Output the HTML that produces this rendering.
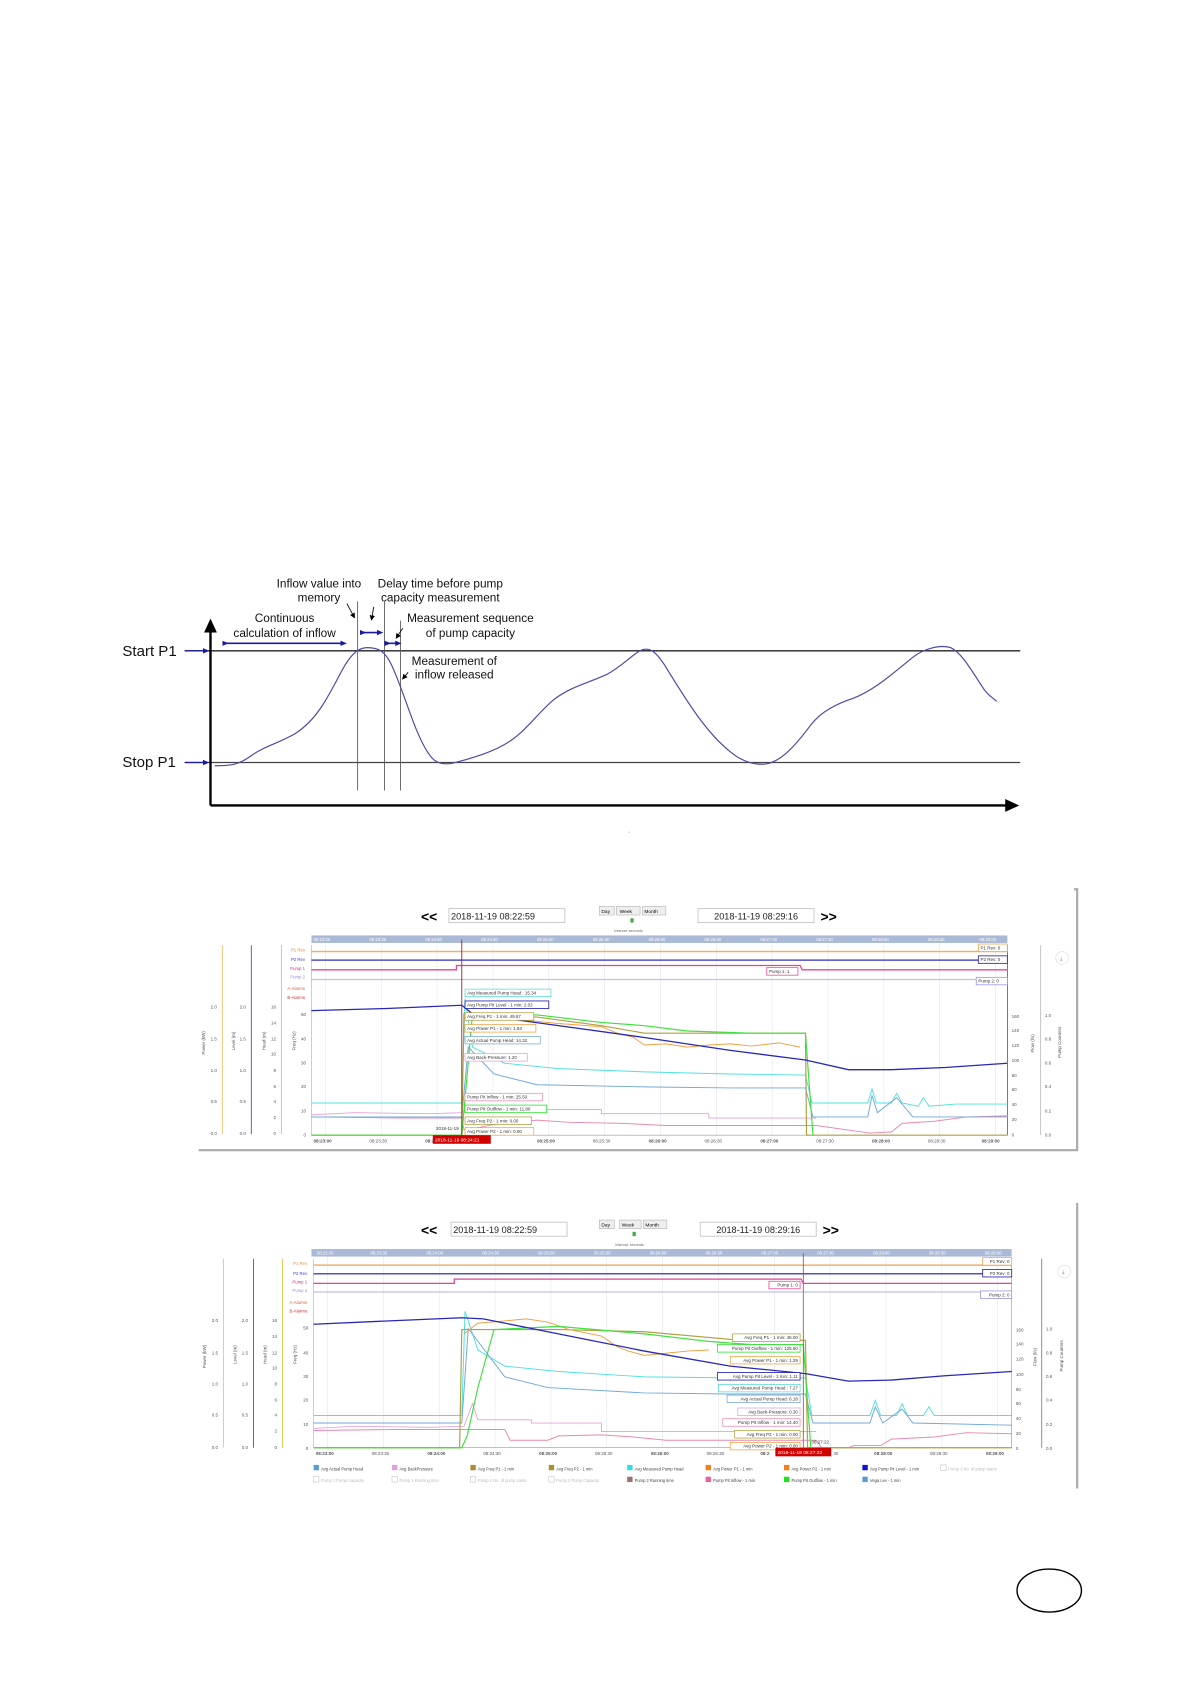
<!DOCTYPE html>
<html><head><meta charset="utf-8"><style>
html,body{margin:0;padding:0;background:#fff;}
svg{display:block;}
text{font-family:"Liberation Sans",sans-serif;}
.s{font-size:4.5px;fill:#555;}
.lb{font-size:4.2px;fill:#333;}
.ax{font-size:4.2px;fill:#555;}
</style></head><body>
<svg width="1191" height="1684" viewBox="0 0 1109 1568" preserveAspectRatio="none" xmlns="http://www.w3.org/2000/svg">
<defs>
<marker id="ah" markerWidth="6" markerHeight="6" refX="3" refY="3" orient="auto" markerUnits="userSpaceOnUse"><path d="M0,0.5 L6,3 L0,5.5 z" fill="#1a1aa0"/></marker>
<marker id="bk" markerWidth="14" markerHeight="14" refX="7" refY="7" orient="auto" markerUnits="userSpaceOnUse"><path d="M0,1 L13,7 L0,13 z" fill="#000"/></marker>
<marker id="sm" markerWidth="5" markerHeight="5" refX="4" refY="2.5" orient="auto" markerUnits="userSpaceOnUse"><path d="M0,0 L5,2.5 L0,5 z" fill="#000"/></marker>
</defs>

<!-- ===== Diagram ===== -->
<g font-size="11" fill="#111" text-anchor="middle">
<text x="297" y="547">Inflow value into</text><text x="297" y="560">memory</text>
<text x="410" y="547">Delay time before pump</text><text x="410" y="560">capacity measurement</text>
<text x="265" y="579">Continuous</text><text x="265" y="593">calculation of inflow</text>
<text x="438" y="579">Measurement sequence</text><text x="438" y="593">of pump capacity</text>
<text x="423" y="619">Measurement of</text><text x="423" y="632">inflow released</text>
</g>
<text x="114" y="611" font-size="14" fill="#111">Start P1</text>
<text x="114" y="714" font-size="14" fill="#111">Stop P1</text>
<line x1="172" y1="606" x2="950" y2="606" stroke="#222" stroke-width="1.2"/>
<line x1="172" y1="710" x2="950" y2="710" stroke="#444" stroke-width="1.2"/>
<path d="M172,606 L192,606" stroke="#1a1aa0" stroke-width="1.2" marker-end="url(#ah)"/>
<path d="M172,710 L192,710" stroke="#1a1aa0" stroke-width="1.2" marker-end="url(#ah)"/>
<line x1="196" y1="750" x2="196" y2="582" stroke="#000" stroke-width="2.2" marker-end="url(#bk)"/>
<line x1="196" y1="750" x2="943" y2="750" stroke="#000" stroke-width="2.2" marker-end="url(#bk)"/>
<g stroke="#555" stroke-width="0.8">
<line x1="333" y1="560" x2="333" y2="736"/><line x1="358" y1="560" x2="358" y2="736"/><line x1="373" y1="578" x2="373" y2="736"/>
</g>
<g stroke="#1a1aa0" stroke-width="1.5">
<path d="M210,599 L320,599" marker-end="url(#ah)" marker-start="url(#ah)"/>
<path d="M338,589 L354,589" marker-end="url(#ah)" marker-start="url(#ah)"/>
<path d="M361,599 L371,599" marker-end="url(#ah)" marker-start="url(#ah)"/>
</g>
<g stroke="#000" stroke-width="0.8">
<path d="M323,562 L330,575" marker-end="url(#sm)"/>
<path d="M348,565 L346,577" marker-end="url(#sm)"/>
<path d="M375,585 L369,594" marker-end="url(#sm)"/>
<path d="M380,626 L375,632" marker-end="url(#sm)"/>
</g>
<path d="M200,713 C215,713 222,712 232,705 C245,695 260,692 275,683 C295,670 305,650 318,625 C326,610 333,603 342,603 C352,603 358,606 364,618 C375,640 385,680 398,700 C404,710 410,712 420,711 C440,706 460,700 475,690 C490,680 500,665 515,652 C530,640 545,637 565,628 C580,620 590,608 598,605 C605,603 610,606 618,618 C635,645 655,680 680,700 C692,710 705,713 715,711 C728,708 740,695 755,675 C765,662 780,655 795,650 C815,642 830,628 850,612 C860,604 875,600 885,603 C895,607 905,625 915,640 C920,648 925,650 928,653" fill="none" stroke="#4a4aa8" stroke-width="1.1"/>
<text x="585" y="775" font-size="6" fill="#333">.</text>

<!-- ===== Chart 1 ===== -->
<g id="c1">
<path d="M1000,828 L1003,828 L1003,1071 L185,1071" fill="none" stroke="#aaa" stroke-width="2"/>
<text x="392" y="858" font-size="13" font-weight="bold">&lt;&lt;</text>
<rect x="418" y="846" width="108" height="13" fill="#fff" stroke="#bbb" stroke-width="0.7"/>
<text x="420" y="856" font-size="8.5" fill="#222">2018-11-19 08:22:59</text>
<rect x="558" y="844" width="14" height="8" fill="#eee" stroke="#aaa" stroke-width="0.5"/><text x="560" y="850" font-size="4.5">Day</text>
<rect x="574" y="844" width="22" height="8" fill="#eee" stroke="#aaa" stroke-width="0.5"/><text x="577" y="850" font-size="4.5">Week</text>
<rect x="598" y="844" width="22" height="8" fill="#eee" stroke="#aaa" stroke-width="0.5"/><text x="600" y="850" font-size="4.5">Month</text>
<rect x="587" y="855" width="3" height="4" fill="#4a4"/>
<text x="572" y="868" font-size="3.5" fill="#666">Interval: seconds</text>
<rect x="650" y="846" width="108" height="13" fill="#fff" stroke="#bbb" stroke-width="0.7"/>
<text x="665" y="856" font-size="8.5" fill="#222">2018-11-19 08:29:16</text>
<text x="764" y="858" font-size="13" font-weight="bold">&gt;&gt;</text>
<rect x="290" y="871" width="648" height="7" fill="#a9b9d6"/>
<g font-size="4"><text x="292" y="876" fill="#fff">08:23:00</text><text x="344" y="876" fill="#fff">08:23:30</text><text x="396" y="876" fill="#fff">08:24:00</text><text x="448" y="876" fill="#fff">08:24:30</text><text x="500" y="876" fill="#fff">08:25:00</text><text x="552" y="876" fill="#fff">08:25:30</text><text x="604" y="876" fill="#fff">08:26:00</text><text x="656" y="876" fill="#fff">08:26:30</text><text x="708" y="876" fill="#fff">08:27:00</text><text x="760" y="876" fill="#fff">08:27:30</text><text x="812" y="876" fill="#fff">08:28:00</text><text x="864" y="876" fill="#fff">08:28:30</text><text x="912" y="876" fill="#fff">08:29:00</text></g>
<g stroke="#e4e8f0" stroke-width="0.6"><line x1="303" y1="878" x2="303" y2="1057"/><line x1="355" y1="878" x2="355" y2="1057"/><line x1="407" y1="878" x2="407" y2="1057"/><line x1="459" y1="878" x2="459" y2="1057"/><line x1="511" y1="878" x2="511" y2="1057"/><line x1="563" y1="878" x2="563" y2="1057"/><line x1="615" y1="878" x2="615" y2="1057"/><line x1="667" y1="878" x2="667" y2="1057"/><line x1="719" y1="878" x2="719" y2="1057"/><line x1="771" y1="878" x2="771" y2="1057"/><line x1="823" y1="878" x2="823" y2="1057"/><line x1="875" y1="878" x2="875" y2="1057"/><line x1="927" y1="878" x2="927" y2="1057"/></g>
<line x1="290" y1="880" x2="290" y2="1057" stroke="#b8c8e0" stroke-width="0.8"/>
<line x1="290" y1="1057" x2="938" y2="1057" stroke="#999" stroke-width="0.6"/>
<line x1="938" y1="880" x2="938" y2="1057" stroke="#333" stroke-width="0.6"/>
<line x1="207" y1="880" x2="207" y2="1056" stroke="#f0c060" stroke-width="0.8"/>
<line x1="234" y1="880" x2="234" y2="1056" stroke="#4040ff" stroke-width="0.8"/>
<line x1="262" y1="880" x2="262" y2="1056" stroke="#e0c040" stroke-width="0.8"/>
<g class="ax" text-anchor="end">
<text x="202" y="939">2.0</text><text x="202" y="969">1.5</text><text x="202" y="998">1.0</text><text x="202" y="1027">0.5</text><text x="202" y="1057">0.0</text>
<text x="229" y="939">2.0</text><text x="229" y="969">1.5</text><text x="229" y="998">1.0</text><text x="229" y="1027">0.5</text><text x="229" y="1057">0.0</text>
<text x="257" y="939">16</text><text x="257" y="954">14</text><text x="257" y="969">12</text><text x="257" y="983">10</text><text x="257" y="998">8</text><text x="257" y="1013">6</text><text x="257" y="1027">4</text><text x="257" y="1042">2</text><text x="257" y="1057">0</text>
<text x="285" y="946">50</text><text x="285" y="969">40</text><text x="285" y="991">30</text><text x="285" y="1013">20</text><text x="285" y="1036">10</text><text x="285" y="1058">0</text>
</g>
<g class="ax"><text transform="translate(191,982) rotate(-90)">Power (kW)</text><text transform="translate(219,978) rotate(-90)">Level (m)</text><text transform="translate(247,978) rotate(-90)">Head (m)</text><text transform="translate(275,978) rotate(-90)">Freq (Hz)</text></g>
<g font-size="4" text-anchor="end"><text x="284" y="886" fill="#e09040">P1 Rev</text><text x="284" y="895" fill="#4040d0">P2 Rev</text><text x="284" y="903" fill="#e02090">Pump 1</text><text x="284" y="911" fill="#9090e0">Pump 2</text><text x="284" y="922" fill="#e06040">A-Alarms</text><text x="284" y="930" fill="#d03030">B-Alarms</text></g>
<line x1="969" y1="880" x2="969" y2="1057" stroke="#bbb" stroke-width="0.8"/>
<g class="ax"><text x="942" y="948">160</text><text x="942" y="961">140</text><text x="942" y="975">120</text><text x="942" y="989">100</text><text x="942" y="1003">80</text><text x="942" y="1016">60</text><text x="942" y="1030">40</text><text x="942" y="1044">20</text><text x="942" y="1058">0</text>
<text x="973" y="947">1.0</text><text x="973" y="969">0.8</text><text x="973" y="991">0.6</text><text x="973" y="1013">0.4</text><text x="973" y="1036">0.2</text><text x="973" y="1058">0.0</text>
<text transform="translate(963,980) rotate(-90)">Flow (l/s)</text><text transform="translate(988,985) rotate(-90)">Pump Counters</text></g>
<circle cx="989" cy="892" r="6" fill="#fff" stroke="#ddd" stroke-width="0.6"/><text x="987" y="894" font-size="5" fill="#888">⤓</text>
<line x1="290" y1="886" x2="938" y2="886" stroke="#f0b070" stroke-width="1.4"/>
<line x1="290" y1="894" x2="938" y2="894" stroke="#5050c8" stroke-width="1.4"/>
<path d="M290,903 L425,903 L425,899 L745,899 L747,903 L938,903" fill="none" stroke="#e8409a" stroke-width="1.2"/>
<line x1="290" y1="912" x2="938" y2="912" stroke="#c0c0ea" stroke-width="1.2"/>
<path d="M290,1038 L330,1036 L400,1037 L430,1036 L440,1030 L495,1030 L495,1033 L560,1033 L560,1037 L660,1037 L660,1041 L760,1041" fill="none" stroke="#e2a0d8" stroke-width="0.8"/>
<path d="M290,1040 L370,1041 L430,1041 L432,1052 L445,1050 L460,1047 L500,1043 L530,1045 L580,1046 L620,1048 L680,1048 L760,1048 L810,1055 L830,1054 L840,1046 L870,1044 L900,1040 L938,1039" fill="none" stroke="#ea88b0" stroke-width="0.9"/>
<path d="M290,1027 L430,1027 L433,930 L440,975 L470,990 L520,995 L600,998 L680,1000 L750,1001 L756,1027 L808,1027 L812,1014 L816,1027 L830,1027 L835,1018 L840,1027 L855,1030 L860,1022 L865,1030 L890,1028 L938,1028" fill="none" stroke="#50e0e0" stroke-width="0.9"/>
<path d="M290,1040 L430,1040 L436,975 L460,1000 L500,1010 L600,1012 L680,1013 L750,1013 L757,1040 L808,1040 L812,1020 L817,1036 L835,1022 L850,1040 L938,1040" fill="none" stroke="#70a8d8" stroke-width="0.9"/>
<path d="M290,1057 L430,1057 L432,944 L500,947 L560,955 L600,962 L750,962 L751,1057 L938,1057" fill="none" stroke="#b0a040" stroke-width="1.1"/>
<path d="M432,946 L470,948 L520,953 L560,956 L575,962 L590,966 L600,973 L620,972 L640,975 L660,973 L680,972 L700,974 L725,971 L745,975" fill="none" stroke="#f0a040" stroke-width="0.9"/>
<path d="M290,1057 L430,1057 L440,944 L500,945 L560,952 L600,955 L640,960 L700,962 L750,962 L757,1057" fill="none" stroke="#40e040" stroke-width="1.1"/>
<path d="M290,941 L360,939 L430,936 L440,944 L520,955 L600,966 L680,978 L750,987 L790,996 L830,996 L880,994 L938,990" fill="none" stroke="#2828b8" stroke-width="1.2"/>
<line x1="430" y1="875" x2="430" y2="1057" stroke="#902020" stroke-width="0.8"/>
<g class="lb">
<rect x="433" y="921" width="80" height="7" fill="#fff" stroke="#50d8d8" stroke-width="0.7"/><text x="435" y="926">Avg Measured Pump Head : 15.34</text>
<rect x="433" y="932" width="78" height="7" fill="#fff" stroke="#2828b8" stroke-width="0.8"/><text x="435" y="937">Avg Pump Pit Level - 1 min: 2.02</text>
<rect x="433" y="943" width="64" height="7" fill="#fff" stroke="#b0a040" stroke-width="0.7"/><text x="435" y="948">Avg Freq P1 - 1 min: 49.67</text>
<rect x="433" y="954" width="66" height="7" fill="#fff" stroke="#f0a040" stroke-width="0.7"/><text x="435" y="959">Avg Power P1 - 1 min: 1.83</text>
<rect x="433" y="965" width="70" height="7" fill="#fff" stroke="#70a8d8" stroke-width="0.7"/><text x="435" y="970">Avg Actual Pump Head: 14.32</text>
<rect x="433" y="981" width="58" height="7" fill="#fff" stroke="#e2a0d8" stroke-width="0.7"/><text x="435" y="986">Avg Back-Pressure: 1.20</text>
<rect x="433" y="1018" width="72" height="7" fill="#fff" stroke="#ea88b0" stroke-width="0.7"/><text x="435" y="1023">Pump Pit Inflow - 1 min: 25.50</text>
<rect x="433" y="1029" width="76" height="7" fill="#fff" stroke="#40e040" stroke-width="0.8"/><text x="435" y="1034">Pump Pit Outflow - 1 min: 11.80</text>
<rect x="433" y="1040" width="62" height="7" fill="#fff" stroke="#b0a040" stroke-width="0.7"/><text x="435" y="1045">Avg Freq P2 - 1 min: 0.00</text>
<rect x="433" y="1050" width="64" height="7" fill="#fff" stroke="#f0a040" stroke-width="0.7"/><text x="435" y="1055">Avg Power P2 - 1 min: 0.00</text>
<rect x="911" y="879" width="27" height="7" fill="#fff" stroke="#f0a040" stroke-width="0.7"/><text x="913" y="884">P1 Rev: 0</text>
<rect x="911" y="890" width="27" height="7" fill="#fff" stroke="#2828b8" stroke-width="0.8"/><text x="913" y="895">P2 Rev: 0</text>
<rect x="714" y="901" width="29" height="7" fill="#fff" stroke="#e8409a" stroke-width="0.7"/><text x="716" y="906">Pump 1: 1</text>
<rect x="909" y="910" width="29" height="7" fill="#fff" stroke="#9090e0" stroke-width="0.7"/><text x="911" y="915">Pump 2: 0</text>
<text x="406" y="1052" fill="#333">2018-11-19</text>
</g>
<rect x="403" y="1057" width="54" height="8" fill="#d00000"/><text x="405" y="1063" font-size="4.5" fill="#fff">2018-11-19 08:24:21</text>
<g class="ax" font-weight="bold"><text x="292" y="1064">08:23:00</text><text x="344" y="1064" font-weight="normal">08:23:30</text><text x="396" y="1064">08:2</text><text x="500" y="1064">08:25:00</text><text x="552" y="1064" font-weight="normal">08:25:30</text><text x="604" y="1064">08:26:00</text><text x="656" y="1064" font-weight="normal">08:26:30</text><text x="708" y="1064">08:27:00</text><text x="760" y="1064" font-weight="normal">08:27:30</text><text x="812" y="1064">08:28:00</text><text x="864" y="1064" font-weight="normal">08:28:30</text><text x="914" y="1064">08:29:00</text></g>
</g>

<!-- ===== Chart 2 ===== -->
<g transform="translate(0,292)">
<line x1="1003" y1="828" x2="1003" y2="1094" stroke="#aaa" stroke-width="2"/>
<text x="392" y="858" font-size="13" font-weight="bold">&lt;&lt;</text>
<rect x="420" y="846" width="108" height="13" fill="#fff" stroke="#bbb" stroke-width="0.7"/>
<text x="422" y="856" font-size="8.5" fill="#222">2018-11-19 08:22:59</text>
<rect x="558" y="844" width="14" height="8" fill="#eee" stroke="#aaa" stroke-width="0.5"/><text x="560" y="850" font-size="4.5">Day</text>
<rect x="577" y="844" width="20" height="8" fill="#eee" stroke="#aaa" stroke-width="0.5"/><text x="579" y="850" font-size="4.5">Week</text>
<rect x="599" y="844" width="22" height="8" fill="#eee" stroke="#aaa" stroke-width="0.5"/><text x="601" y="850" font-size="4.5">Month</text>
<rect x="589" y="855" width="3" height="4" fill="#4a4"/>
<text x="573" y="868" font-size="3.5" fill="#666">Interval: seconds</text>
<rect x="652" y="846" width="108" height="13" fill="#fff" stroke="#bbb" stroke-width="0.7"/>
<text x="667" y="856" font-size="8.5" fill="#222">2018-11-19 08:29:16</text>
<text x="766" y="858" font-size="13" font-weight="bold">&gt;&gt;</text>
<rect x="290" y="871" width="652" height="7" fill="#a9b9d6"/>
<g font-size="4"><text x="295" y="876" fill="#fff">08:23:00</text><text x="345" y="876" fill="#fff">08:23:30</text><text x="397" y="876" fill="#fff">08:24:00</text><text x="449" y="876" fill="#fff">08:24:30</text><text x="501" y="876" fill="#fff">08:25:00</text><text x="553" y="876" fill="#fff">08:25:30</text><text x="605" y="876" fill="#fff">08:26:00</text><text x="657" y="876" fill="#fff">08:26:30</text><text x="709" y="876" fill="#fff">08:27:00</text><text x="761" y="876" fill="#fff">08:27:30</text><text x="813" y="876" fill="#fff">08:28:00</text><text x="865" y="876" fill="#fff">08:28:30</text><text x="917" y="876" fill="#fff">08:29:00</text></g>
<g stroke="#e4e8f0" stroke-width="0.6"><line x1="305" y1="878" x2="305" y2="1056"/><line x1="357" y1="878" x2="357" y2="1056"/><line x1="409" y1="878" x2="409" y2="1056"/><line x1="461" y1="878" x2="461" y2="1056"/><line x1="513" y1="878" x2="513" y2="1056"/><line x1="565" y1="878" x2="565" y2="1056"/><line x1="617" y1="878" x2="617" y2="1056"/><line x1="669" y1="878" x2="669" y2="1056"/><line x1="721" y1="878" x2="721" y2="1056"/><line x1="773" y1="878" x2="773" y2="1056"/><line x1="825" y1="878" x2="825" y2="1056"/><line x1="877" y1="878" x2="877" y2="1056"/><line x1="929" y1="878" x2="929" y2="1056"/></g>
<line x1="292" y1="880" x2="292" y2="1056" stroke="#b8c8e0" stroke-width="0.8"/>
<line x1="292" y1="1056" x2="942" y2="1056" stroke="#999" stroke-width="0.6"/>
<line x1="942" y1="880" x2="942" y2="1056" stroke="#999" stroke-width="0.6"/>
<line x1="208" y1="880" x2="208" y2="1056" stroke="#f0c060" stroke-width="0.8"/>
<line x1="236" y1="880" x2="236" y2="1056" stroke="#4040ff" stroke-width="0.8"/>
<line x1="263" y1="880" x2="263" y2="1056" stroke="#e0c040" stroke-width="0.8"/>
<g class="ax" text-anchor="end">
<text x="203" y="939">2.0</text><text x="203" y="969">1.5</text><text x="203" y="998">1.0</text><text x="203" y="1027">0.5</text><text x="203" y="1057">0.0</text>
<text x="231" y="939">2.0</text><text x="231" y="969">1.5</text><text x="231" y="998">1.0</text><text x="231" y="1027">0.5</text><text x="231" y="1057">0.0</text>
<text x="258" y="939">16</text><text x="258" y="954">14</text><text x="258" y="969">12</text><text x="258" y="983">10</text><text x="258" y="998">8</text><text x="258" y="1013">6</text><text x="258" y="1027">4</text><text x="258" y="1042">2</text><text x="258" y="1057">0</text>
<text x="287" y="946">50</text><text x="287" y="969">40</text><text x="287" y="991">30</text><text x="287" y="1013">20</text><text x="287" y="1036">10</text><text x="287" y="1058">0</text>
</g>
<g class="ax"><text transform="translate(192,982) rotate(-90)">Power (kW)</text><text transform="translate(220,978) rotate(-90)">Level (m)</text><text transform="translate(248,978) rotate(-90)">Head (m)</text><text transform="translate(276,978) rotate(-90)">Freq (Hz)</text></g>
<g font-size="4" text-anchor="end"><text x="286" y="886" fill="#e09040">P1 Rev</text><text x="286" y="895" fill="#4040d0">P2 Rev</text><text x="286" y="903" fill="#e02090">Pump 1</text><text x="286" y="911" fill="#9090e0">Pump 2</text><text x="286" y="922" fill="#e06040">A-Alarms</text><text x="286" y="930" fill="#d03030">B-Alarms</text></g>
<line x1="970" y1="880" x2="970" y2="1056" stroke="#a060c0" stroke-width="0.8"/>
<g class="ax"><text x="946" y="948">160</text><text x="946" y="961">140</text><text x="946" y="975">120</text><text x="946" y="989">100</text><text x="946" y="1003">80</text><text x="946" y="1016">60</text><text x="946" y="1030">40</text><text x="946" y="1044">20</text><text x="946" y="1058">0</text>
<text x="974" y="947">1.0</text><text x="974" y="969">0.8</text><text x="974" y="991">0.6</text><text x="974" y="1013">0.4</text><text x="974" y="1036">0.2</text><text x="974" y="1058">0.0</text>
<text transform="translate(965,980) rotate(-90)">Flow (l/s)</text><text transform="translate(990,985) rotate(-90)">Pump Counters</text></g>
<circle cx="991" cy="892" r="6" fill="#fff" stroke="#ddd" stroke-width="0.6"/><text x="989" y="894" font-size="5" fill="#888">⤓</text>
<line x1="292" y1="886" x2="942" y2="886" stroke="#f0b070" stroke-width="1.4"/>
<line x1="292" y1="894" x2="942" y2="894" stroke="#5050c8" stroke-width="1.4"/>
<path d="M292,903 L423,903 L423,899 L746,899 L748,903 L942,903" fill="none" stroke="#e8409a" stroke-width="1.2"/>
<line x1="292" y1="911" x2="942" y2="911" stroke="#c0c0ea" stroke-width="1.2"/>
<path d="M292,1038 L330,1036 L400,1037 L432,1036 L440,1015 L445,1030 L495,1030 L495,1033 L560,1033 L560,1041 L660,1041 L760,1041" fill="none" stroke="#e2a0d8" stroke-width="0.8"/>
<path d="M292,1040 L370,1039 L430,1039 L450,1039 L470,1039 L475,1049 L510,1049 L520,1045 L560,1044 L590,1046 L620,1049 L700,1049 L760,1049 L765,1056 L790,1056 L795,1054 L820,1054 L830,1048 L870,1046 L900,1042 L942,1043" fill="none" stroke="#ea88b0" stroke-width="0.9"/>
<path d="M292,1026 L430,1026 L433,929 L445,965 L470,980 L520,985 L600,990 L680,991 L750,991 L756,1026 L810,1026 L815,1012 L820,1026 L835,1026 L840,1015 L845,1026 L860,1026 L865,1018 L870,1026 L942,1026" fill="none" stroke="#50e0e0" stroke-width="0.9"/>
<path d="M292,1033 L430,1033 L436,945 L470,990 L510,1000 L600,1005 L680,1006 L750,1006 L757,1033 L810,1033 L815,1018 L822,1033 L840,1020 L850,1033 L942,1035" fill="none" stroke="#70a8d8" stroke-width="0.9"/>
<path d="M292,1056 L428,1056 L430,946 L520,946 L600,948 L690,956 L750,956 L752,1056 L942,1056" fill="none" stroke="#b0a040" stroke-width="1.1"/>
<path d="M432,950 L445,940 L470,938 L490,936 L510,939 L530,946 L560,952 L575,962 L585,966 L600,970 L620,968 L640,966 L660,965" fill="none" stroke="#f0a040" stroke-width="0.9"/>
<path d="M292,1056 L430,1056 L435,1045 L445,1000 L460,946 L520,943 L600,950 L660,957 L700,960 L748,960 L755,1056" fill="none" stroke="#40e040" stroke-width="1.1"/>
<path d="M292,941 L360,938 L430,935 L450,936 L520,950 L600,966 L680,980 L750,987 L790,994 L830,993 L880,989 L942,985" fill="none" stroke="#2828b8" stroke-width="1.2"/>
<line x1="748" y1="875" x2="748" y2="1056" stroke="#a05050" stroke-width="0.8"/>
<g class="lb" text-anchor="end">
<rect x="682" y="950" width="63" height="7" fill="#fff" stroke="#b0a040" stroke-width="0.7"/><text x="743" y="955">Avg Freq P1 - 1 min: 45.00</text>
<rect x="668" y="960" width="77" height="7" fill="#fff" stroke="#40e040" stroke-width="0.8"/><text x="743" y="965">Pump Pit Outflow - 1 min: 125.50</text>
<rect x="680" y="971" width="65" height="7" fill="#fff" stroke="#f0a040" stroke-width="0.7"/><text x="743" y="976">Avg Power P1 - 1 min: 1.29</text>
<rect x="668" y="986" width="77" height="7" fill="#fff" stroke="#2828b8" stroke-width="0.8"/><text x="743" y="991">Avg Pump Pit Level - 1 min: 1.11</text>
<rect x="669" y="997" width="76" height="7" fill="#fff" stroke="#50d8d8" stroke-width="0.7"/><text x="743" y="1002">Avg Measured Pump Head : 7.27</text>
<rect x="677" y="1007" width="68" height="7" fill="#fff" stroke="#70a8d8" stroke-width="0.7"/><text x="743" y="1012">Avg Actual Pump Head: 6.18</text>
<rect x="687" y="1019" width="58" height="7" fill="#fff" stroke="#e2a0d8" stroke-width="0.7"/><text x="743" y="1024">Avg Back-Pressure: 0.30</text>
<rect x="673" y="1029" width="72" height="7" fill="#fff" stroke="#ea88b0" stroke-width="0.7"/><text x="743" y="1034">Pump Pit Inflow - 1 min: 14.40</text>
<rect x="684" y="1040" width="61" height="7" fill="#fff" stroke="#b0a040" stroke-width="0.7"/><text x="743" y="1045">Avg Freq P2 - 1 min: 0.00</text>
<rect x="680" y="1051" width="65" height="7" fill="#fff" stroke="#f0a040" stroke-width="0.7"/><text x="743" y="1056">Avg Power P2 - 1 min: 0.00</text>
<rect x="915" y="879" width="27" height="7" fill="#fff" stroke="#f0a040" stroke-width="0.7"/><text x="940" y="884">P1 Rev: 0</text>
<rect x="915" y="890" width="27" height="7" fill="#fff" stroke="#2828b8" stroke-width="0.8"/><text x="940" y="895">P2 Rev: 0</text>
<rect x="716" y="901" width="29" height="7" fill="#fff" stroke="#e8409a" stroke-width="0.7"/><text x="743" y="906">Pump 1: 0</text>
<rect x="913" y="910" width="29" height="7" fill="#fff" stroke="#9090e0" stroke-width="0.7"/><text x="940" y="915">Pump 2: 0</text>
<text x="772" y="1052">08:27:22</text>
</g>
<rect x="722" y="1056" width="52" height="8" fill="#d00000"/><text x="724" y="1062" font-size="4.5" fill="#fff">2018-11-19 08:27:22</text>
<g class="ax" font-weight="bold"><text x="294" y="1063">08:23:00</text><text x="346" y="1063" font-weight="normal">08:23:30</text><text x="398" y="1063">08:24:00</text><text x="450" y="1063" font-weight="normal">08:24:30</text><text x="502" y="1063">08:25:00</text><text x="554" y="1063" font-weight="normal">08:25:30</text><text x="606" y="1063">08:26:00</text><text x="658" y="1063" font-weight="normal">08:26:30</text><text x="708" y="1063">08:2</text><text x="776" y="1063" font-weight="normal">30</text><text x="814" y="1063">08:28:00</text><text x="866" y="1063" font-weight="normal">08:28:30</text><text x="918" y="1063">08:29:00</text></g>
<g font-size="3.8" fill="#444">
<rect x="292" y="1072" width="5" height="5" fill="#5b9bd5"/><text x="299" y="1077">Avg Actual Pump Head</text>
<rect x="365" y="1072" width="5" height="5" fill="#e2a0d8"/><text x="372" y="1077">Avg BackPressure</text>
<rect x="438" y="1072" width="5" height="5" fill="#a89030"/><text x="445" y="1077">Avg Freq P1 - 1 min</text>
<rect x="511" y="1072" width="5" height="5" fill="#a89030"/><text x="518" y="1077">Avg Freq P2 - 1 min</text>
<rect x="584" y="1072" width="5" height="5" fill="#30e0e0"/><text x="591" y="1077">Avg Measured Pump Head</text>
<rect x="657" y="1072" width="5" height="5" fill="#f08020"/><text x="664" y="1077">Avg Power P1 - 1 min</text>
<rect x="730" y="1072" width="5" height="5" fill="#f08020"/><text x="737" y="1077">Avg Power P2 - 1 min</text>
<rect x="803" y="1072" width="5" height="5" fill="#1010d0"/><text x="810" y="1077">Avg Pump Pit Level - 1 min</text>
<rect x="876" y="1072" width="5" height="5" fill="#fff" stroke="#bbb" stroke-width="0.5"/><text x="883" y="1077" fill="#bbb">Pump 1 No. of pump starts</text>
<rect x="292" y="1083" width="5" height="5" fill="#fff" stroke="#bbb" stroke-width="0.5"/><text x="299" y="1088" fill="#bbb">Pump 1 Pump Capacity</text>
<rect x="365" y="1083" width="5" height="5" fill="#fff" stroke="#bbb" stroke-width="0.5"/><text x="372" y="1088" fill="#bbb">Pump 1 Running time</text>
<rect x="438" y="1083" width="5" height="5" fill="#fff" stroke="#bbb" stroke-width="0.5"/><text x="445" y="1088" fill="#bbb">Pump 2 No. of pump starts</text>
<rect x="511" y="1083" width="5" height="5" fill="#fff" stroke="#bbb" stroke-width="0.5"/><text x="518" y="1088" fill="#bbb">Pump 2 Pump Capacity</text>
<rect x="584" y="1083" width="5" height="5" fill="#a07070"/><text x="591" y="1088">Pump 2 Running time</text>
<rect x="657" y="1083" width="5" height="5" fill="#f060a0"/><text x="664" y="1088">Pump Pit Inflow - 1 min</text>
<rect x="730" y="1083" width="5" height="5" fill="#20e020"/><text x="737" y="1088">Pump Pit Outflow - 1 min</text>
<rect x="803" y="1083" width="5" height="5" fill="#5b9bd5"/><text x="810" y="1088">Vega Lev - 1 min</text>
</g>
</g>

<ellipse cx="977" cy="1481" rx="30" ry="20" fill="none" stroke="#000" stroke-width="1.3"/>
</svg>
</body></html>
